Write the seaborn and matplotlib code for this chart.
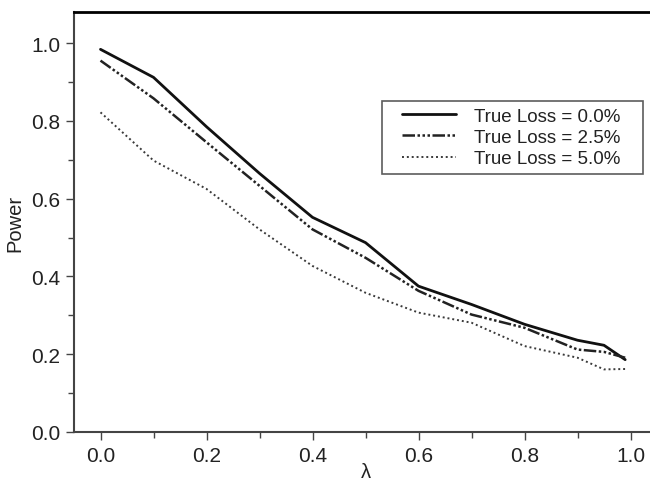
import pandas as pd
import seaborn as sns
import matplotlib.pyplot as plt
from matplotlib.ticker import MultipleLocator, FormatStrFormatter
from matplotlib.legend_handler import HandlerLine2D

# lambda values and power for each true loss
lam = [0.0, 0.1, 0.2, 0.3, 0.4, 0.5, 0.6, 0.7, 0.8, 0.9, 0.95, 0.99]
power_00 = [0.984, 0.912, 0.785, 0.665, 0.552, 0.487, 0.375, 0.328, 0.277, 0.236, 0.223, 0.186]
power_25 = [0.955, 0.858, 0.745, 0.633, 0.521, 0.448, 0.363, 0.302, 0.268, 0.212, 0.206, 0.191]
power_50 = [0.822, 0.698, 0.625, 0.521, 0.427, 0.358, 0.307, 0.281, 0.221, 0.191, 0.161, 0.162]
labels = ['True Loss = 0.0%', 'True Loss = 2.5%', 'True Loss = 5.0%']

df = pd.DataFrame({'lam': lam, labels[0]: power_00, labels[1]: power_25, labels[2]: power_50})
df_long = pd.melt(df, id_vars='lam', var_name='Loss', value_name='Power')

sns.set_style('white')
plt.rcParams['font.family'] = ['Liberation Sans', 'DejaVu Sans']

fig = plt.figure(figsize=(6.5, 4.85), dpi=100)
ax = fig.add_axes([74 / 650, 1 - 433 / 485, 583 / 650, 420 / 485])

palette = {labels[0]: '#111111', labels[1]: '#222222', labels[2]: '#3a3a3a'}
dashes = {labels[0]: '', labels[1]: (5, 1, 1, 1, 1, 1, 1, 1), labels[2]: (1, 1.5)}
widths = [2.0, 1.8, 1.4]
sns.lineplot(data=df_long, x='lam', y='Power', hue='Loss', style='Loss',
             palette=palette, dashes=dashes, ax=ax)
for line, lw in zip(ax.lines, widths):
    line.set_linewidth(lw)

ax.set_xlim(-0.05, 1.05)
ax.set_ylim(0, 1.08)
ax.xaxis.set_major_locator(MultipleLocator(0.2))
ax.xaxis.set_minor_locator(MultipleLocator(0.1))
ax.yaxis.set_major_locator(MultipleLocator(0.2))
ax.yaxis.set_minor_locator(MultipleLocator(0.1))
ax.xaxis.set_major_formatter(FormatStrFormatter('%.1f'))
ax.yaxis.set_major_formatter(FormatStrFormatter('%.1f'))
ax.tick_params(which='major', direction='out', length=6, width=1, color='#444444',
               labelsize=15, labelcolor='#222222', bottom=True, left=True, pad=4)
ax.tick_params(which='minor', direction='out', length=4, width=1, color='#444444',
               bottom=True, left=True)

for side in ['left', 'bottom']:
    ax.spines[side].set_color('#444444')
    ax.spines[side].set_linewidth(1.5)
ax.spines['top'].set_color('black')
ax.spines['top'].set_linewidth(2)
ax.spines['right'].set_visible(False)

ax.set_xlabel('λ', fontsize=14.5, color='#222222')
ax.xaxis.set_label_coords(0.5, -0.072)
ax.set_ylabel('Power', fontsize=14.5, color='#222222', labelpad=5)

handles = ax.get_legend().legend_handles
for h, lw in zip(handles, widths):
    h.set_linewidth(lw)
leg = ax.legend(handles, [l + '   ' for l in labels], loc='upper right',
                bbox_to_anchor=(0.976, 0.788), borderaxespad=0, fancybox=False,
                frameon=True, fontsize=13.5, handlelength=3.6, handletextpad=0.96,
                labelspacing=0.22, borderpad=0.35, edgecolor='#333333',
                handler_map={h: HandlerLine2D(xpad=0.71) for h in handles})
leg.get_frame().set_linewidth(1.2)
for t in leg.get_texts():
    t.set_color('#222222')

fig.savefig('out.png', dpi=100)
